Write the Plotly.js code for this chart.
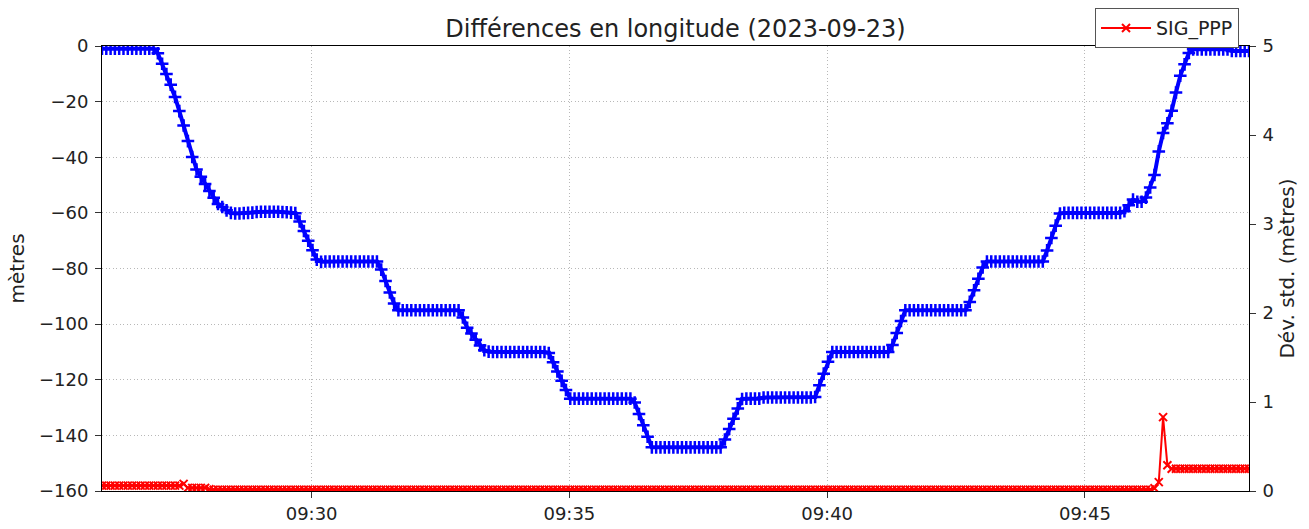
<!DOCTYPE html>
<html>
<head>
<meta charset="utf-8">
<script src="https://cdn.plot.ly/plotly-3.0.1.min.js"></script>
<style>html,body{margin:0;padding:0;background:#fff;}#chart{width:1309px;height:529px;}</style>
</head>
<body>
<div id="chart"></div>
<script>
// Sampling time base: one sample every 5 s, seconds counted from 09:25:00 on 2023-09-23
const dateStr = '2023-09-23';
const firstSecond = 56;   // 09:25:56
const stepSeconds = 5;

// Différences en longitude (mètres)
const diffLongitude = [
  -1,-1,-1,-1,-1,-1,-1,-1,-1,-1,-1,-1,-1,
  -2.6,-6.4,-10.1,-13.9,-18.3,-23.4,-28.6,-34.2,-39.9,-44.4,-47.0,-49.6,-52.1,-54.6,-56.8,-57.9,-59.1,-60.0,
  -60.2,-60.2,-60.1,-60.0,-59.9,-59.7,-59.6,-59.6,-59.6,-59.6,-59.6,-59.7,-59.8,-59.9,-60.1,
  -63.1,-66.5,-70.0,-73.4,-76.8,-77.6,
  -77.5,-77.5,-77.5,-77.5,-77.5,-77.5,-77.5,-77.5,-77.5,-77.5,-77.5,-77.5,-77.5,
  -80.4,-84.5,-88.6,-92.6,-95.0,
  -95,-95,-95,-95,-95,-95,-95,-95,-95,-95,-95,-95,-95,-95,
  -97.6,-101.3,-103.4,-105.6,-107.7,-109.4,-109.9,-110.0,
  -110,-110,-110,-110,-110,-110,-110,-110,-110,-110,-110,-110,
  -110.4,-113.7,-117.0,-120.4,-123.7,-126.8,
  -126.8,-126.8,-126.8,-126.8,-126.8,-126.8,-126.8,-126.8,-126.8,-126.8,-126.8,-126.8,-126.8,-126.8,
  -128.2,-132.3,-136.4,-140.5,-144.3,
  -144.3,-144.3,-144.3,-144.3,-144.3,-144.3,-144.3,-144.3,-144.3,-144.3,-144.3,-144.3,-144.3,-144.3,-144.3,-144.3,
  -141.5,-137.7,-134.0,-130.3,-126.9,
  -126.8,-126.8,-126.8,-126.8,
  -126.4,-126.4,-126.4,-126.4,-126.4,-126.4,-126.4,-126.4,-126.4,-126.4,-126.4,-126.4,
  -126.2,-122.0,-117.8,-113.5,-110.0,
  -110,-110,-110,-110,-110,-110,-110,-110,-110,-110,-110,-110,-110,
  -107.5,-103.2,-98.9,-95.0,
  -95,-95,-95,-95,-95,-95,-95,-95,-95,-95,-95,-95,-95,-95,
  -92.0,-87.8,-83.7,-79.6,-77.5,
  -77.5,-77.5,-77.5,-77.5,-77.5,-77.5,-77.5,-77.5,-77.5,-77.5,-77.5,-77.5,-77.5,
  -73.5,-69.0,-64.6,-60.2,
  -60,-60,-60,-60,-60,-60,-60,-60,-60,-60,-60,-60,-60,-60,
  -59.4,-57.3,-55.2,-56.0,-56.0,-54.5,-50.9,-46.4,-37.9,-31.3,-27.8,-23.3,-16.7,-10.7,-6.6,-2.5,
  -1.2,-1.2,-1.2,-1.2,-1.2,-1.2,-1.2,-1.2,-1.2,
  -1.8,-1.8,-1.8,-1.8,-1.8
];

// SIG_PPP (mètres)
const sigPPP = [
  0.06,0.06,0.06,0.06,0.06,0.06,0.06,0.06,0.06,0.06,
  0.06,0.06,0.06,0.06,0.06,0.06,0.06,0.06,0.06,
  0.08,
  0.035,0.035,0.035,0.035,0.035,
  0.02,
  0.015,0.015,0.015,0.015,0.015,0.015,0.015,0.015,0.015,0.015,
  0.015,0.015,0.015,0.015,0.015,0.015,0.015,0.015,0.015,0.015,
  0.015,0.015,0.015,0.015,0.015,0.015,0.015,0.015,0.015,0.015,
  0.015,0.015,0.015,0.015,0.015,0.015,0.015,0.015,0.015,0.015,
  0.015,0.015,0.015,0.015,0.015,0.015,0.015,0.015,0.015,0.015,
  0.015,0.015,0.015,0.015,0.015,0.015,0.015,0.015,0.015,0.015,
  0.015,0.015,0.015,0.015,0.015,0.015,0.015,0.015,0.015,0.015,
  0.015,0.015,0.015,0.015,0.015,0.015,0.015,0.015,0.015,0.015,
  0.015,0.015,0.015,0.015,0.015,0.015,0.015,0.015,0.015,0.015,
  0.015,0.015,0.015,0.015,0.015,0.015,0.015,0.015,0.015,0.015,
  0.015,0.015,0.015,0.015,0.015,0.015,0.015,0.015,0.015,0.015,
  0.015,0.015,0.015,0.015,0.015,0.015,0.015,0.015,0.015,0.015,
  0.015,0.015,0.015,0.015,0.015,0.015,0.015,0.015,0.015,0.015,
  0.015,0.015,0.015,0.015,0.015,0.015,0.015,0.015,0.015,0.015,
  0.015,0.015,0.015,0.015,0.015,0.015,0.015,0.015,0.015,0.015,
  0.015,0.015,0.015,0.015,0.015,0.015,0.015,0.015,0.015,0.015,
  0.015,0.015,0.015,0.015,0.015,0.015,0.015,0.015,0.015,0.015,
  0.015,0.015,0.015,0.015,0.015,0.015,0.015,0.015,0.015,0.015,
  0.015,0.015,0.015,0.015,0.015,0.015,0.015,0.015,0.015,0.015,
  0.015,0.015,0.015,0.015,0.015,0.015,0.015,0.015,0.015,0.015,
  0.015,0.015,0.015,0.015,0.015,0.015,0.015,0.015,0.015,0.015,
  0.015,0.015,0.015,0.015,0.015,0.015,0.015,0.015,0.015,
  0.03,0.1,0.83,0.29,
  0.25,0.25,0.25,0.25,0.25,0.25,0.25,0.25,0.25,0.25,
  0.25,0.25,0.25,0.25,0.25,0.25,0.25,0.25,0.25
];

const titleText = 'Différences en longitude (2023-09-23)';
const leftTitle = 'mètres';
const rightTitle = 'Dév. std. (mètres)';
const seriesName = 'SIG_PPP';

function pad2(n){ return (n < 10 ? '0' : '') + n; }
function stamp(sec){
  const total = 9*3600 + 25*60 + sec;
  const h = Math.floor(total/3600), m = Math.floor((total%3600)/60), s = total%60;
  return dateStr + ' ' + pad2(h) + ':' + pad2(m) + ':' + pad2(s);
}
const times = diffLongitude.map((_, i) => stamp(firstSecond + i*stepSeconds));

const font = 'DejaVu Sans, Verdana, sans-serif';
const txt = '#222222';
const gridDash = '1px,2.5px';

const traces = [
  {
    x: times, y: diffLongitude, type: 'scatter', mode: 'lines+markers',
    line: {color: '#0000ff', width: 4},
    marker: {symbol: 'cross-thin', size: 9, color: '#0000ff', line: {color: '#0000ff', width: 2.5}},
    showlegend: false, yaxis: 'y', name: 'diff'
  },
  {
    x: times, y: sigPPP, type: 'scatter', mode: 'lines+markers',
    line: {color: '#ff0000', width: 2},
    marker: {symbol: 'x-thin', size: 8, color: '#ff0000', line: {color: '#ff0000', width: 2}},
    name: seriesName, yaxis: 'y2'
  }
];

const layout = {
  width: 1309, height: 529,
  margin: {l: 102, r: 60, t: 46, b: 38, autoexpand: false},
  paper_bgcolor: '#ffffff', plot_bgcolor: '#ffffff',
  font: {family: font, size: 18, color: txt},
  title: {text: titleText, font: {family: font, size: 24, color: txt}, x: 0.5, xref: 'paper', xanchor: 'center', y: 1, yref: 'paper', yanchor: 'bottom', pad: {b: 9}},
  showlegend: true,
  legend: {x: 0.9913, xanchor: 'right', y: 1.085, yanchor: 'top',
           bgcolor: '#ffffff', bordercolor: '#555555', borderwidth: 1, itemwidth: 50,
           font: {family: font, size: 19, color: txt}},
  xaxis: {
    type: 'date', range: [stamp(56), stamp(1391)],
    tickformat: '%H:%M', dtick: 300000, tick0: dateStr + ' 09:30:00',
    showgrid: true, gridcolor: '#b8b8b8', griddash: gridDash, gridwidth: 1,
    zeroline: false, showline: true, linecolor: '#000000', linewidth: 1, mirror: true,
    ticks: 'outside', ticklen: 6, tickwidth: 1, tickcolor: '#333333',
    tickfont: {family: font, size: 18, color: txt}
  },
  yaxis: {
    range: [-160, 0], dtick: 20, tick0: 0,
    showgrid: true, gridcolor: '#b8b8b8', griddash: gridDash, gridwidth: 1,
    zeroline: false, showline: true, linecolor: '#000000', linewidth: 1,
    ticks: 'outside', ticklen: 6, tickwidth: 1, tickcolor: '#333333',
    tickfont: {family: font, size: 18, color: txt}, ticklabelstandoff: 3,
    title: {text: leftTitle, font: {family: font, size: 20, color: txt}, standoff: 8}
  },
  yaxis2: {
    overlaying: 'y', side: 'right', range: [0, 5], dtick: 1, tick0: 0,
    showgrid: false, zeroline: false, showline: true, linecolor: '#000000', linewidth: 1,
    ticks: 'outside', ticklen: 6, tickwidth: 1, tickcolor: '#333333',
    tickfont: {family: font, size: 18, color: txt}, ticklabelstandoff: 3,
    title: {text: rightTitle, font: {family: font, size: 20, color: txt}, standoff: 6}
  }
};

Plotly.newPlot('chart', traces, layout, {displayModeBar: false, staticPlot: true});
</script>
</body>
</html>
